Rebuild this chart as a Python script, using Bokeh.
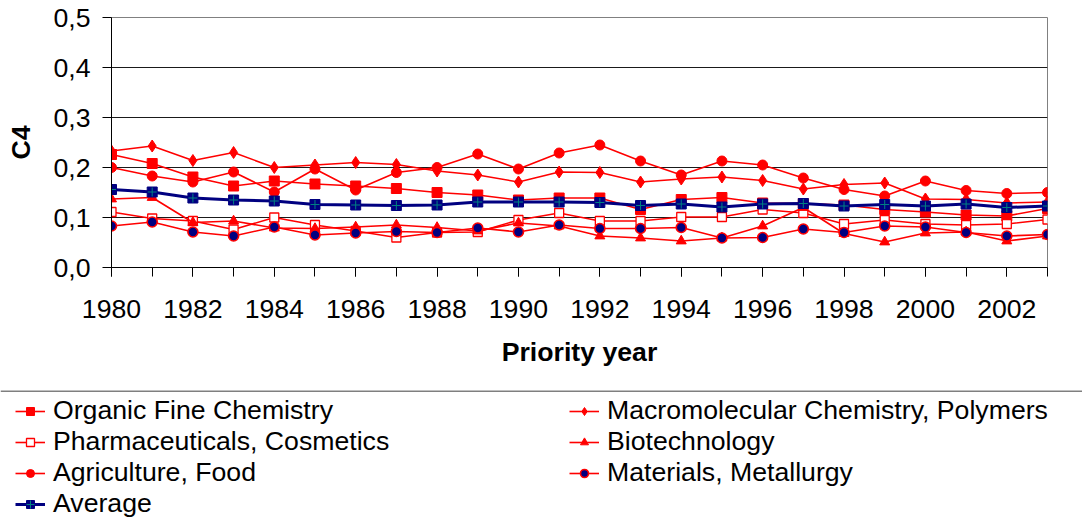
from bokeh.plotting import figure
from bokeh.models import (FixedTicker, CustomJSTickFormatter, Legend, LegendItem, Span)
from bokeh.layouts import column
from bokeh.embed import file_html
from bokeh.resources import INLINE

years = list(range(1980, 2004))

organic = [0.226, 0.208, 0.181, 0.163, 0.173, 0.167, 0.163, 0.158, 0.150, 0.145, 0.135, 0.139,
           0.139, 0.116, 0.136, 0.140, 0.129, 0.128, 0.125, 0.116, 0.111, 0.105, 0.103, 0.118]
macro = [0.233, 0.243, 0.214, 0.230, 0.200, 0.205, 0.210, 0.206, 0.193, 0.185, 0.171, 0.191,
         0.190, 0.171, 0.177, 0.181, 0.174, 0.157, 0.166, 0.169, 0.137, 0.136, 0.129, 0.131]
pharma = [0.111, 0.098, 0.093, 0.076, 0.100, 0.085, 0.073, 0.060, 0.070, 0.071, 0.095, 0.109,
          0.093, 0.093, 0.101, 0.101, 0.116, 0.109, 0.087, 0.095, 0.087, 0.085, 0.087, 0.096]
biotech = [0.137, 0.140, 0.090, 0.093, 0.079, 0.078, 0.081, 0.085, 0.080, 0.073, 0.089, 0.083,
           0.063, 0.059, 0.053, 0.059, 0.083, 0.120, 0.068, 0.051, 0.069, 0.071, 0.053, 0.063]
agri = [0.200, 0.183, 0.171, 0.191, 0.151, 0.197, 0.155, 0.190, 0.200, 0.227, 0.197, 0.229,
        0.245, 0.213, 0.185, 0.213, 0.205, 0.179, 0.156, 0.143, 0.173, 0.154, 0.148, 0.150]
materials = [0.083, 0.091, 0.071, 0.063, 0.081, 0.065, 0.069, 0.072, 0.070, 0.079, 0.071, 0.085,
             0.078, 0.078, 0.080, 0.059, 0.060, 0.077, 0.070, 0.083, 0.081, 0.070, 0.063, 0.066]
average = [0.156, 0.151, 0.139, 0.135, 0.133, 0.126, 0.125, 0.124, 0.125, 0.131, 0.131, 0.131,
           0.130, 0.124, 0.127, 0.121, 0.127, 0.128, 0.123, 0.126, 0.123, 0.127, 0.120, 0.123]

labels = {
    "organic": "Organic Fine Chemistry",
    "macro": "Macromolecular Chemistry, Polymers",
    "pharma": "Pharmaceuticals, Cosmetics",
    "biotech": "Biotechnology",
    "agri": "Agriculture, Food",
    "materials": "Materials, Metallurgy",
    "average": "Average",
}
y_ticks = [0.0, 0.1, 0.2, 0.3, 0.4, 0.5]
x_label_years = list(range(1980, 2003, 2))

FONT = "Liberation Sans"
FS = "20pt"
RED = "#ff0000"
NAVY = "#000080"
TEAL = "#008080"

W = 1082
H_MAIN, H_LEG = 390, 127
BL, BR, BT, FH = 111, 35, 17, 250

p = figure(width=W, height=H_MAIN, x_range=(1980, 2003), y_range=(0, 0.5),
           output_backend="svg", toolbar_location=None,
           min_border_left=BL, min_border_right=BR, min_border_top=BT,
           min_border_bottom=H_MAIN - BT - FH)
p.background_fill_color = "white"
p.border_fill_color = "white"
p.outline_line_color = "#808080"
p.xgrid.grid_line_color = None
p.ygrid.grid_line_color = "#1a1a1a"
p.ygrid.grid_line_width = 1

p.xaxis.ticker = FixedTicker(ticks=x_label_years, minor_ticks=years)
p.yaxis.ticker = FixedTicker(ticks=y_ticks, minor_ticks=[])
p.yaxis.formatter = CustomJSTickFormatter(code="return tick.toFixed(1).replace('.', ',');")
for ax in (p.xaxis[0], p.yaxis[0]):
    ax.axis_line_color = "black"
    ax.major_tick_line_color = "black"
    ax.minor_tick_line_color = "black"
    ax.major_tick_in = 0
    ax.major_tick_out = 9
    ax.minor_tick_in = 0
    ax.minor_tick_out = 9
    ax.major_label_text_font = FONT
    ax.major_label_text_font_size = FS
    ax.major_label_text_color = "black"
    ax.axis_label_text_font = FONT
    ax.axis_label_text_font_size = FS
    ax.axis_label_text_font_style = "bold"
    ax.axis_label_text_color = "black"
p.yaxis.minor_tick_out = 0
p.xaxis.axis_label = "Priority year"
p.yaxis.axis_label = "C4"
p.xaxis.major_label_standoff = 23
p.yaxis.major_label_standoff = 12
p.xaxis.axis_label_standoff = 16
p.yaxis.axis_label_standoff = 14


def add_series(fig, xs, ys, key):
    rs = []
    if key == "average":
        rs.append(fig.line(xs, ys, line_color=NAVY, line_width=3))
        rs.append(fig.scatter(xs, ys, marker="square", size=10, fill_color=NAVY, line_color=NAVY))
        rs.append(fig.scatter(xs, ys, marker="cross", size=9, line_color=TEAL, line_width=1))
        return rs
    rs.append(fig.line(xs, ys, line_color=RED, line_width=1.6))
    if key == "organic":
        rs.append(fig.scatter(xs, ys, marker="square", size=10, fill_color=RED, line_color=RED))
    elif key == "macro":
        rs.append(fig.scatter(xs, ys, marker="diamond", size=12, fill_color=RED, line_color=RED))
    elif key == "pharma":
        rs.append(fig.scatter(xs, ys, marker="square", size=9, fill_color="white", line_color=RED, line_width=1.3))
    elif key == "biotech":
        rs.append(fig.scatter(xs, ys, marker="triangle", size=10, fill_color=RED, line_color=RED))
    elif key == "agri":
        rs.append(fig.scatter(xs, ys, marker="circle", size=10, fill_color=RED, line_color=RED))
    elif key == "materials":
        rs.append(fig.scatter(xs, ys, marker="circle", size=10, fill_color=NAVY, line_color=RED, line_width=1.6))
    return rs


series = {
    "organic": organic, "macro": macro, "pharma": pharma, "biotech": biotech,
    "agri": agri, "materials": materials, "average": average,
}
for key in ["organic", "macro", "pharma", "biotech", "agri", "materials", "average"]:
    add_series(p, years, series[key], key)

# Legend panel below the chart (its own frame covers the whole panel)
lf = figure(width=W, height=H_LEG, x_range=(0, W), y_range=(0, H_LEG),
            x_axis_type=None, y_axis_type=None, output_backend="svg",
            toolbar_location=None, min_border=0, frame_align=False)
lf.outline_line_color = None
lf.background_fill_color = "white"
lf.border_fill_color = "white"
lf.add_layout(Span(location=H_LEG - 0.5, dimension="width", line_color="black", line_width=1))

# legend renderers reuse the same data; the years lie outside this panel's x range
leg_renderers = {key: add_series(lf, years, series[key], key) for key in series}


def make_legend(keys, x, y):
    items = [LegendItem(label=labels[k], renderers=leg_renderers[k]) for k in keys]
    lg = Legend(items=items, location=(x, y), orientation="vertical",
                glyph_width=30, glyph_height=20, label_height=30, label_standoff=8,
                spacing=0, padding=0, margin=0,
                label_text_font=FONT, label_text_font_size=FS, label_text_color="black",
                border_line_color=None, background_fill_alpha=0)
    lf.add_layout(lg, "center")


make_legend(["organic", "pharma", "agri", "average"], 15, -2)
make_legend(["macro", "biotech", "materials"], 569, 29)

layout = column(p, lf, spacing=0)
open("out.html", "w").write(file_html(layout, INLINE))
